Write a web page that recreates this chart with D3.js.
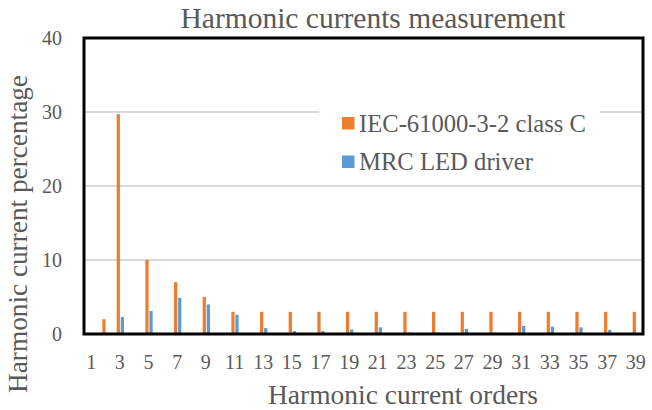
<!DOCTYPE html>
<html>
<head>
<meta charset="utf-8">
<script src="https://cdn.jsdelivr.net/npm/d3@7"></script>
<style>
  body { margin: 0; background: #fff; }
  svg text { font-family: "Liberation Serif", "Times New Roman", serif; fill: #595959; }
</style>
</head>
<body>
<div id="chart"></div>
<script>
// Data
var orders = d3.range(1, 40);
var tickOrders = d3.range(1, 40, 2);
var iecLimit = [0, 2, 29.7, 0, 10, 0, 7, 0, 5, 0, 3, 0, 3, 0, 3, 0, 3, 0, 3, 0,
                3, 0, 3, 0, 3, 0, 3, 0, 3, 0, 3, 0, 3, 0, 3, 0, 3, 0, 3];
var mrcDriver = [0, 0.15, 2.3, 0, 3.1, 0, 4.9, 0, 4.0, 0, 2.6, 0, 0.8, 0, 0.4, 0, 0.4, 0, 0.6, 0,
                 0.9, 0, 0.2, 0, 0.2, 0, 0.7, 0, 0.2, 0, 1.1, 0, 1.0, 0, 0.9, 0, 0.55, 0, 0.1];
var seriesNames = ["IEC-61000-3-2 class C", "MRC LED driver"];
var yTicks = [0, 10, 20, 30, 40];

const orange = "#ED7D31";
const blue = "#5B9BD5";
const textGrey = "#595959";

var width = 652, height = 410;
var margin = { left: 84, top: 38, right: 9, bottom: 76 };

var svg = d3.select("#chart")
    .append("svg")
    .attr("width", width)
    .attr("height", height);

// Shrink/grow a text so it spans the width measured on the reference
function fitText(sel, target) {
    sel.style("font-size", "100px");
    var len = sel.node().getComputedTextLength();
    sel.style("font-size", (100 * target / len).toFixed(2) + "px");
}

var x = d3.scaleBand()
    .domain(orders)
    .range([margin.left, width - margin.right])
    .padding(0);

var xs = d3.scaleBand()
    .domain([0, 1])
    .range([x.bandwidth() * 0.28, x.bandwidth() * 0.79])
    .paddingInner(0.2);

var y = d3.scaleLinear()
    .domain([0, 40])
    .range([height - margin.bottom, margin.top]);

// Gridlines
svg.append("g")
    .selectAll("line")
    .data(yTicks.slice(1, 4))
    .enter()
    .append("line")
    .attr("x1", margin.left)
    .attr("x2", width - margin.right)
    .attr("y1", d => y(d))
    .attr("y2", d => y(d))
    .attr("stroke", "#d9d9d9")
    .attr("stroke-width", 2);

// Bars
var rows = orders.map((o, i) => ({ order: o, vals: [iecLimit[i], mrcDriver[i]] }));
var colours = [orange, blue];

svg.append("g")
    .selectAll("g")
    .data(rows)
    .enter()
    .append("g")
    .attr("transform", d => "translate(" + x(d.order) + ",0)")
    .selectAll("rect")
    .data(d => d.vals.map((v, k) => ({ k: k, v: v })))
    .enter()
    .append("rect")
    .attr("x", d => xs(d.k))
    .attr("width", xs.bandwidth())
    .attr("y", d => y(d.v))
    .attr("height", d => y(0) - y(d.v))
    .attr("fill", d => colours[d.k]);

// Plot border
svg.append("rect")
    .attr("x", margin.left)
    .attr("y", margin.top)
    .attr("width", width - margin.right - margin.left)
    .attr("height", y(0) - margin.top)
    .attr("fill", "none")
    .attr("stroke", "#000")
    .attr("stroke-width", 3);

// Y axis tick labels
svg.append("g")
    .attr("transform", "translate(" + (margin.left - 22) + ",0)")
    .call(d3.axisLeft(y).tickValues(yTicks).tickSize(0).tickPadding(0))
    .call(g => g.select(".domain").remove())
    .attr("font-family", null)
    .attr("font-size", null)
    .selectAll("text")
    .attr("fill", textGrey)
    .style("font-size", "20px");

// X axis tick labels
svg.append("g")
    .attr("transform", "translate(0," + (y(0) + 21) + ")")
    .call(d3.axisBottom(x).tickValues(tickOrders).tickSize(0).tickPadding(0))
    .call(g => g.select(".domain").remove())
    .attr("font-family", null)
    .attr("font-size", null)
    .selectAll("text")
    .attr("fill", textGrey)
    .style("font-size", "20px");

// Titles
svg.append("text")
    .attr("x", 373)
    .attr("y", 28)
    .attr("text-anchor", "middle")
    .text("Harmonic currents measurement")
    .call(fitText, 385);

svg.append("text")
    .attr("x", 403)
    .attr("y", 404)
    .attr("text-anchor", "middle")
    .text("Harmonic current orders")
    .call(fitText, 270);

svg.append("text")
    .attr("transform", "translate(27,234) rotate(-90)")
    .attr("text-anchor", "middle")
    .text("Harmonic current percentage")
    .call(fitText, 318);

// Legend
var legend = svg.append("g");
legend.append("rect")
    .attr("x", 319)
    .attr("y", 100)
    .attr("width", 281)
    .attr("height", 80)
    .attr("fill", "#fff");

var items = legend.selectAll("g.item")
    .data(seriesNames)
    .enter()
    .append("g")
    .attr("transform", (d, i) => "translate(342," + (117 + i * 38.5) + ")");

items.append("rect")
    .attr("width", 12.5)
    .attr("height", 12.5)
    .attr("fill", (d, i) => colours[i]);

items.append("text")
    .attr("x", 17)
    .attr("y", 14.5)
    .text(d => d)
    .each(function(d, i) {
        d3.select(this).call(fitText, i == 0 ? 227 : 174);
    });
</script>
</body>
</html>
